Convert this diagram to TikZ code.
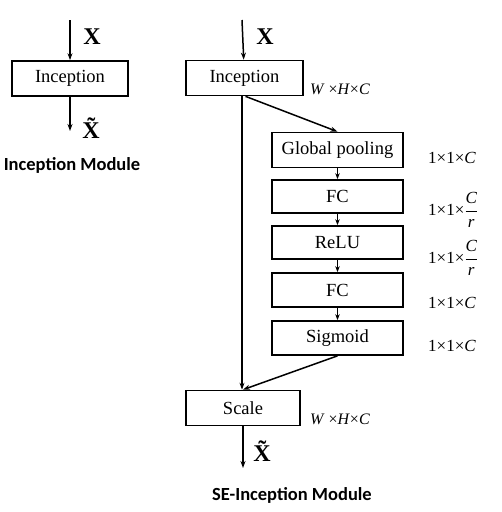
\documentclass[tikz,border=0pt]{standalone}
\usepackage{fontspec}
\setmainfont{Liberation Serif}
\newfontfamily\labelfont{Carlito}
\usetikzlibrary{arrows.meta}
\newcommand\ratio{\ensuremath{\displaystyle\frac{\hbox{\itshape C}}{\hbox{\itshape r}}}}
\begin{document}
\begin{tikzpicture}[x=1pt,y=-1pt,
    blk/.style={draw,line width=1.7pt,inner sep=0pt,minimum height=35pt,font=\fontsize{18.5}{20}\selectfont},
    flow/.style={line width=1.5pt,-{Stealth[length=7pt,width=5pt]}},
    thin flow/.style={line width=1.1pt,-{Stealth[length=6pt,width=4.5pt]}},
    dim/.style={anchor=west,inner sep=0pt,font=\fontsize{17}{19}\selectfont},
    caption/.style={font=\labelfont\bfseries\fontsize{18.5}{20}\selectfont}]
  \useasboundingbox (0,0) rectangle (502,512);
  % plain module
  \coordinate (inA) at (70,20);
  \coordinate (outA) at (70,131);
  \node[blk,minimum width=116pt] (incA) at (70,78.5) {Inception};
  \draw[flow] (inA) -- (incA);
  \draw[flow] (incA) -- (outA);
  \node[font=\fontsize{24}{26}\selectfont] (xA) at (92,37) {\textbf{X}};
  \node[font=\fontsize{24}{26}\selectfont] (xtA) at (95,128) {\textbf{\~{X}}};
  \node[caption] (capA) at (72,165) {Inception Module};
  % SE module
  \coordinate (inB) at (242,20);
  \coordinate (outB) at (243,468);
  \node[blk,minimum width=117pt] (incB) at (244.5,78) {Inception};
  \node[blk,minimum width=131pt] (pool) at (337.5,150) {Global pooling};
  \node[blk,minimum width=131pt,minimum height=33pt] (fc1) at (337.5,196.5) {FC};
  \node[blk,minimum width=131pt,minimum height=33pt] (relu) at (337.5,242.5) {ReLU};
  \node[blk,minimum width=131pt,minimum height=34pt] (fc2) at (337.5,290) {FC};
  \node[blk,minimum width=131pt,minimum height=34pt] (sig) at (337.5,338) {Sigmoid};
  \node[blk,minimum width=114pt] (scale) at (243,408) {Scale};
  \draw[flow] (inB) -- (incB);
  \draw[flow] (incB.south -| 242,0) -- (scale.north -| 242,0);
  \draw[flow] (incB.south) ++(1,0) -- (pool.north);
  \draw[thin flow] (pool) -- (fc1);
  \draw[thin flow] (fc1) -- (relu);
  \draw[thin flow] (relu) -- (fc2);
  \draw[thin flow] (fc2) -- (sig);
  \draw[flow] (sig.south) -- (scale.north);
  \draw[flow] (scale) -- (outB);
  \node[font=\fontsize{24}{26}\selectfont] (xB) at (265,37) {\textbf{X}};
  \node[font=\fontsize{24}{26}\selectfont] (xtB) at (266,451) {\textbf{\~{X}}};
  \node[dim,anchor=center,font=\fontsize{16}{18}\selectfont] (whcA) at (340,89) {\textit{W} ×\textit{H}×\textit{C}};
  \node[dim,anchor=center,font=\fontsize{16}{18}\selectfont] (whcB) at (340,419) {\textit{W} ×\textit{H}×\textit{C}};
  \node[dim] (d1) at (428,158) {1×1×\textit{C}};
  \node[dim] (d2) at (428,210) {1×1×\ratio};
  \node[dim] (d3) at (428,258) {1×1×\ratio};
  \node[dim] (d4) at (428,303) {1×1×\textit{C}};
  \node[dim] (d5) at (428,346) {1×1×\textit{C}};
  \node[caption] (capB) at (292,495) {SE-Inception Module};
\end{tikzpicture}
\end{document}
